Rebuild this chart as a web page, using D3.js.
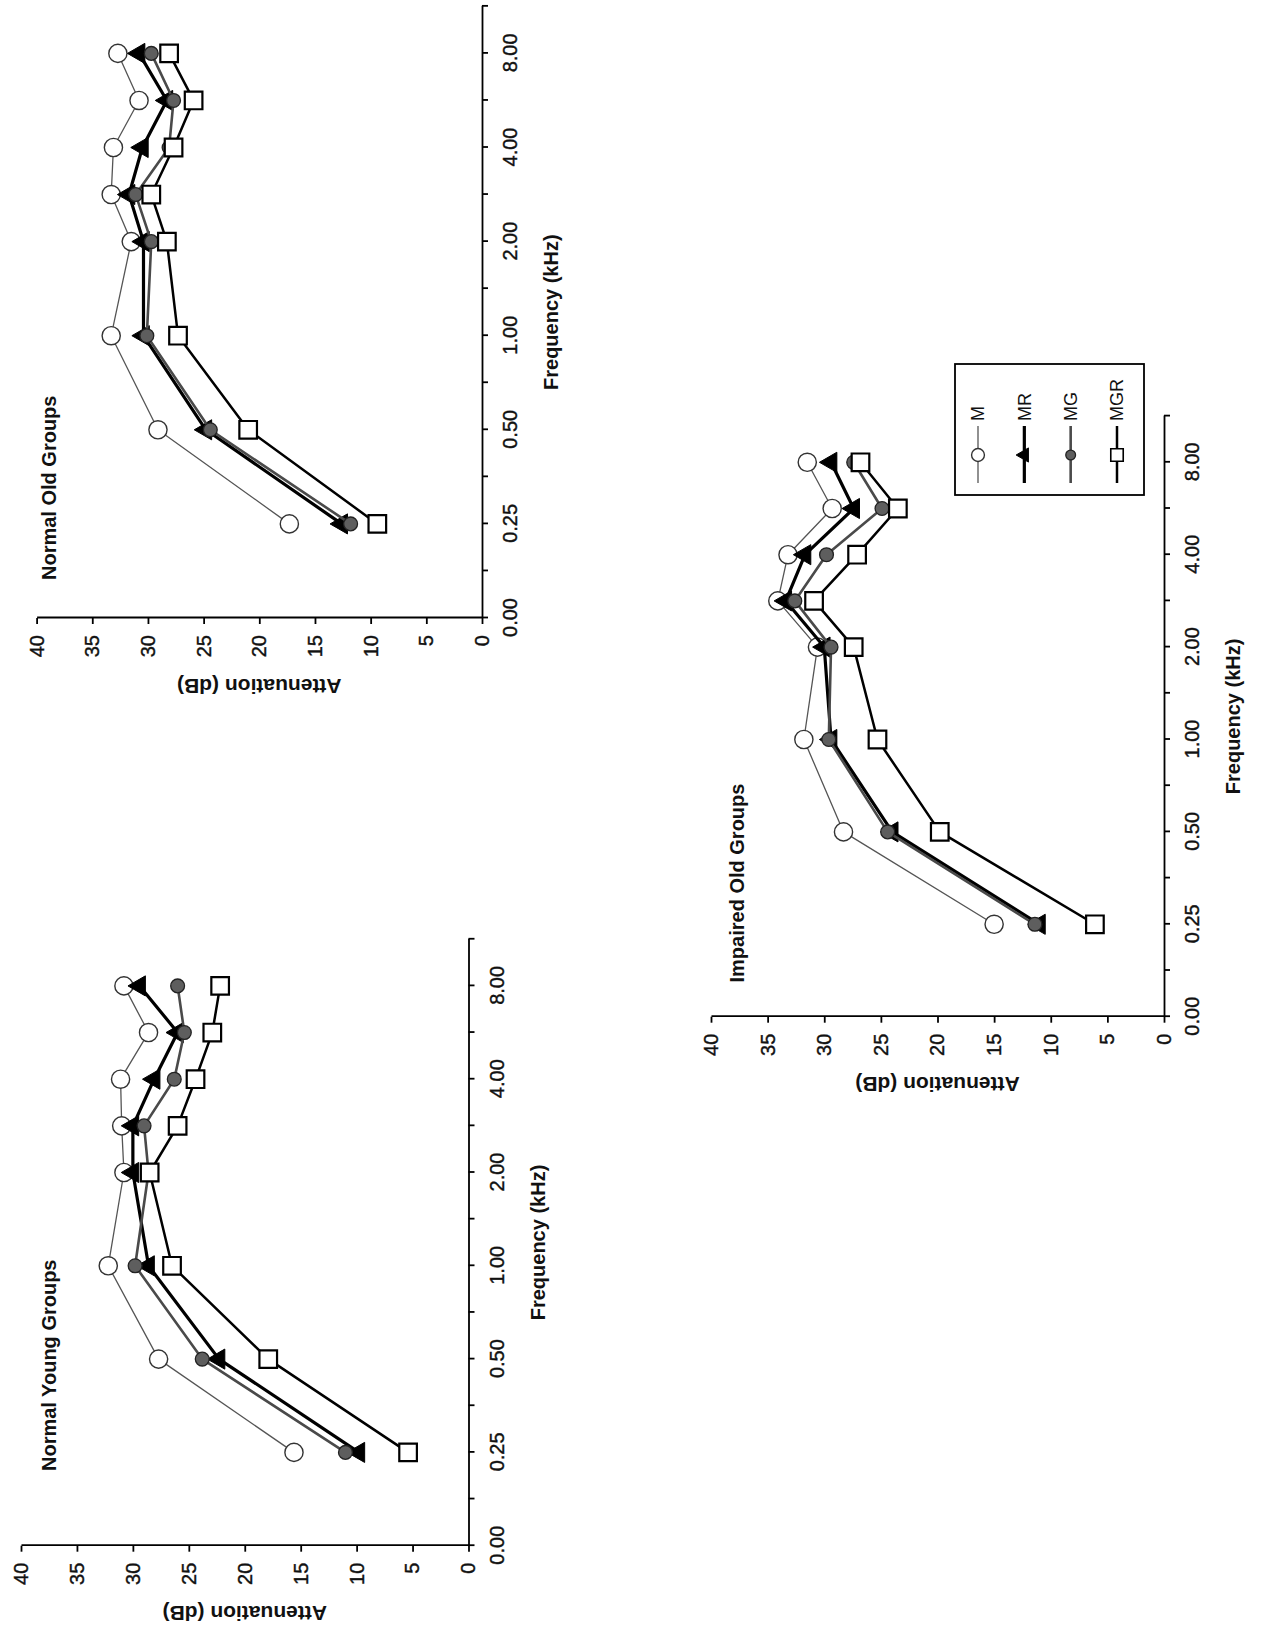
<!DOCTYPE html>
<html>
<head>
<meta charset="utf-8">
<script src="https://cdn.jsdelivr.net/npm/d3@7"></script>
<style>
  body { margin: 0; background: #fff; }
  svg { display: block; }
  text { font-family: "Liberation Sans", Arial, sans-serif; fill: #111; }
</style>
</head>
<body>
<div class="container"></div>
<script>
// frequencies measured (kHz)
const FREQS = [0.25, 0.5, 1, 2, 3, 4, 6, 8]
// axis ticks: labelled ones + the half steps between them
const FREQ_LABELS = [0, 0.25, 0.5, 1, 2, 4, 8]
const FREQ_TICKS = [0, 0.125, 0.25, 0.375, 0.5, 0.75, 1, 1.5, 2, 3, 4, 6, 8, 12]
const DB_TICKS = [0, 5, 10, 15, 20, 25, 30, 35, 40]
const SERIES = ["M", "MR", "MG", "MGR"]

// attenuation (dB)
const normalOldM   = [17.3, 29.1, 33.3, 31.5, 33.3, 33.1, 30.8, 32.7]
const normalOldMR  = [12.6, 24.8, 30.4, 30.4, 31.7, 30.5, 28.3, 30.8]
const normalOldMG  = [11.8, 24.4, 30.1, 29.7, 31.1, 28.1, 27.7, 29.7]
const normalOldMGR = [9.4, 21.0, 27.3, 28.3, 29.7, 27.7, 25.9, 28.1]

const normalYoungM   = [15.6, 27.7, 32.2, 30.8, 31.0, 31.1, 28.6, 30.8]
const normalYoungMR  = [9.8, 22.3, 28.6, 30.0, 30.0, 28.1, 26.0, 29.4]
const normalYoungMG  = [11.0, 23.8, 29.8, 28.6, 29.0, 26.3, 25.4, 26.0]
const normalYoungMGR = [5.4, 17.9, 26.5, 28.5, 26.0, 24.4, 22.9, 22.2]

const impairedOldM   = [15.0, 28.3, 31.8, 30.6, 34.1, 33.2, 29.3, 31.5]
const impairedOldMR  = [11.0, 24.0, 29.4, 30.0, 33.4, 31.7, 27.4, 29.4]
const impairedOldMG  = [11.4, 24.4, 29.6, 29.4, 32.6, 29.8, 24.9, 27.4]
const impairedOldMGR = [6.1, 19.8, 25.3, 27.4, 30.9, 27.1, 23.5, 26.8]

const W = 1262, H = 1631

// panel placement, in the upright page (before the quarter turn)
const panels = [
    { title: "Normal Old Groups", values: [normalOldM, normalOldMR, normalOldMG, normalOldMGR],
      ox: 1013, oy: 482, top: 36.6, unit: 94.1, tx: 1051, ty: 49 },
    { title: "Normal Young Groups", values: [normalYoungM, normalYoungMR, normalYoungMG, normalYoungMGR],
      ox: 85.3, oy: 468.5, top: 21, unit: 93.3, tx: 160, ty: 49 },
    { title: "Impaired Old Groups", values: [impairedOldM, impairedOldMR, impairedOldMG, impairedOldMGR],
      ox: 614.3, oy: 1164, top: 711, unit: 92.4, tx: 648.5, ty: 737, legend: true }
]

// look of each group
const styles = {
    M:   { stroke: "#555", width: 1.3, symbol: d3.symbolCircle, size: 260, fill: "#fff", mstroke: "#333", mwidth: 1.4 },
    MR:  { stroke: "#000", width: 3.2, symbol: d3.symbolTriangle, size: 175, fill: "#000", mstroke: "#000", mwidth: 1 },
    MG:  { stroke: "#4a4a4a", width: 2.6, symbol: d3.symbolCircle, size: 150, fill: "#5e5e5e", mstroke: "#222", mwidth: 1.3 },
    MGR: { stroke: "#000", width: 2.5, symbol: d3.symbolSquare, size: 310, fill: "#fff", mstroke: "#000", mwidth: 2.2 }
}

const svg = d3.select("div.container").append("svg")
    .attr("width", W)
    .attr("height", H)

// the page was scanned lying on its side: draw it upright, then turn it
const page = svg.append("g")
    .attr("transform", "translate(0," + H + ") rotate(-90)")

function styleAxis(sel) {
    sel.select(".domain").attr("stroke", "#000").attr("stroke-width", 1.8)
    sel.selectAll(".tick line").attr("stroke", "#000").attr("stroke-width", 1.8)
    sel.selectAll(".tick text")
        .style("font-size", "20px")
        .attr("fill", "#111")
        .attr("stroke", "#111")
        .attr("stroke-width", 0.4)
}

function drawPanel(p) {
    const x = d3.scaleLinear()
        .domain([0, 0.25, 0.5, 1, 2, 4, 8, 12])
        .range([0, 1, 2, 3, 4, 5, 6, 6.5].map(k => p.ox + k * p.unit))
    const y = d3.scaleLinear().domain([0, 40]).range([p.oy, p.top])

    const g = page.append("g")

    // frequency axis
    g.append("g")
        .attr("transform", "translate(0," + p.oy + ")")
        .call(d3.axisBottom(x)
            .tickValues(FREQ_TICKS)
            .tickFormat(d => FREQ_LABELS.includes(d) ? d3.format(".2f")(d) : "")
            .tickSize(6).tickSizeOuter(0).tickPadding(15))
        .call(styleAxis)

    // attenuation axis
    g.append("g")
        .attr("transform", "translate(" + p.ox + ",0)")
        .call(d3.axisLeft(y)
            .tickValues(DB_TICKS)
            .tickSize(6).tickSizeOuter(0).tickPadding(11))
        .call(styleAxis)

    g.append("text")
        .attr("x", (x(0) + x(12)) / 2)
        .attr("y", p.oy + 69)
        .attr("dy", "0.35em")
        .attr("text-anchor", "middle")
        .style("font-size", "20px").style("font-weight", "bold")
        .text("Frequency (kHz)")

    g.append("text")
        .attr("transform", "translate(" + (p.ox - 68) + "," + (p.oy + p.top) / 2 + ") rotate(-90)")
        .attr("dy", "0.35em")
        .attr("text-anchor", "middle")
        .style("font-size", "21px").style("font-weight", "bold")
        .text("Attenuation (dB)")

    g.append("text")
        .attr("x", p.tx).attr("y", p.ty)
        .attr("dy", "0.35em")
        .style("font-size", "20px").style("font-weight", "bold")
        .text(p.title)

    const line = d3.line().x(d => x(d[0])).y(d => y(d[1]))

    SERIES.forEach((name, i) => {
        const s = styles[name]
        const pts = FREQS.map((f, j) => [f, p.values[i][j]])

        g.append("path")
            .datum(pts)
            .attr("d", line)
            .attr("fill", "none")
            .attr("stroke", s.stroke)
            .attr("stroke-width", s.width)
            .attr("stroke-linejoin", "round")

        g.selectAll(".m-" + name)
            .data(pts)
            .enter().append("path")
            .attr("class", "m-" + name)
            .attr("transform", d => "translate(" + x(d[0]) + "," + y(d[1]) + ")")
            .attr("d", d3.symbol(s.symbol, s.size))
            .attr("fill", s.fill)
            .attr("stroke", s.mstroke)
            .attr("stroke-width", s.mwidth)
    })

    if (p.legend) drawLegend()
}

function drawLegend() {
    const lg = page.append("g")

    lg.append("rect")
        .attr("x", 1136).attr("y", 955)
        .attr("width", 131).attr("height", 189)
        .attr("fill", "#fff")
        .attr("stroke", "#000")
        .attr("stroke-width", 1.8)

    const rows = d3.scalePoint().domain(SERIES).range([978, 1117])

    SERIES.forEach(name => {
        const s = styles[name]
        const ry = rows(name)
        lg.append("line")
            .attr("x1", 1148).attr("x2", 1205)
            .attr("y1", ry).attr("y2", ry)
            .attr("stroke", s.stroke)
            .attr("stroke-width", s.width)
        lg.append("path")
            .attr("transform", "translate(1176," + ry + ")")
            .attr("d", d3.symbol(s.symbol, s.size * 0.5))
            .attr("fill", s.fill)
            .attr("stroke", s.mstroke)
            .attr("stroke-width", Math.min(s.mwidth, 1.6))
        lg.append("text")
            .attr("x", 1210).attr("y", ry)
            .attr("dy", "0.35em")
            .style("font-size", "18px")
            .text(name)
    })
}

panels.forEach(drawPanel)
</script>
</body>
</html>
